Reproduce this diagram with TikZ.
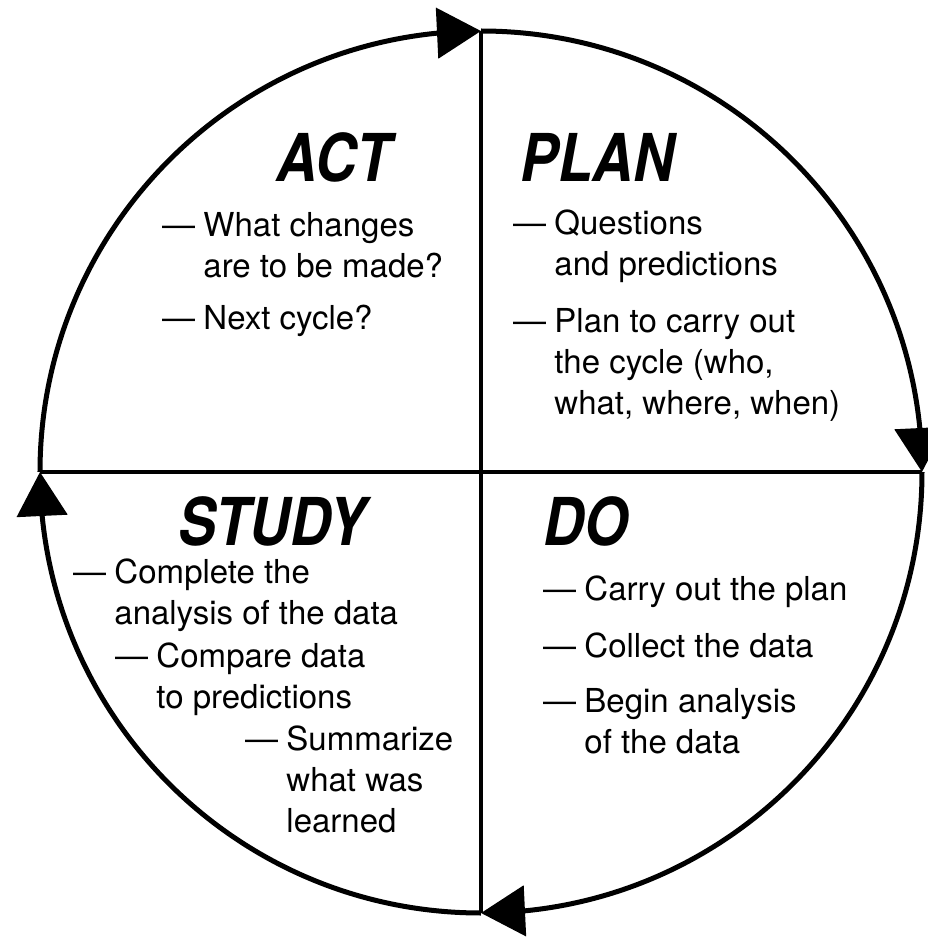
\documentclass[tikz,border=0pt]{standalone}
\usepackage{fontspec}
\setmainfont{TeX Gyre Heros}
\usepackage{graphicx}
\usepackage{tikz}
\usetikzlibrary{arrows.meta, bending}
\tikzstyle{phase} = [font=\fontsize{66}{68}\selectfont\bfseries\itshape, anchor=base west, inner sep=0pt]
\tikzstyle{item} = [font=\fontsize{33}{41}\selectfont, anchor=base west, inner sep=0pt]
\newcommand{\phasename}[1]{\scalebox{0.86}[1]{#1}}
\newcommand{\stepitem}[1]{\textemdash\hspace{0.25em}\begin{tabular}[t]{@{}l@{}}#1\end{tabular}}

\begin{document}
\begin{tikzpicture}[
x=1pt, y=1pt,
cycle/.style = {line width=5pt, -{Triangle[length=44pt, width=50pt, flex]}},
axis/.style = {line width=4.5pt}
                        ]
\useasboundingbox (-481,-465) rectangle (447,472);
% the cycle
\foreach \a in {180,90,0,-90}
  \draw[cycle] (\a:441) arc (\a:\a-90:441);
\coordinate (top) at (90:441);
\coordinate (bottom) at (-90:441);
\coordinate (left) at (180:441);
\coordinate (right) at (0:441);
\draw[axis] (top) -- (bottom);
\draw[axis] (left) -- (right);
% act
\node[phase] (act) at (-205,290) {\phasename{ACT}};
\node[item] (act1) at (-319,235) {\stepitem{What changes\\are to be made?}};
\node[item] (act2) at (-319,142) {\stepitem{Next cycle?}};
% plan
\node[phase] (plan) at (39,290) {\phasename{PLAN}};
\node[item] (plan1) at (32,237) {\stepitem{Questions\\and predictions}};
\node[item] (plan2) at (32,139) {\stepitem{Plan to carry out\\the cycle (who,\\what, where, when)}};
% study
\node[phase] (study) at (-303,-73) {\phasename{STUDY}};
\node[item] (study1) at (-408,-111) {\stepitem{Complete the\\analysis of the data}};
\node[item] (study2) at (-366,-195) {\stepitem{Compare data\\to predictions}};
\node[item] (study3) at (-236,-278) {\stepitem{Summarize\\what was\\learned}};
% do
\node[phase] (do) at (62,-73) {\phasename{DO}};
\node[item] (do1) at (62,-128) {\stepitem{Carry out the plan}};
\node[item] (do2) at (62,-185) {\stepitem{Collect the data}};
\node[item] (do3) at (62,-240) {\stepitem{Begin analysis\\of the data}};
\end{tikzpicture}
\end{document}
